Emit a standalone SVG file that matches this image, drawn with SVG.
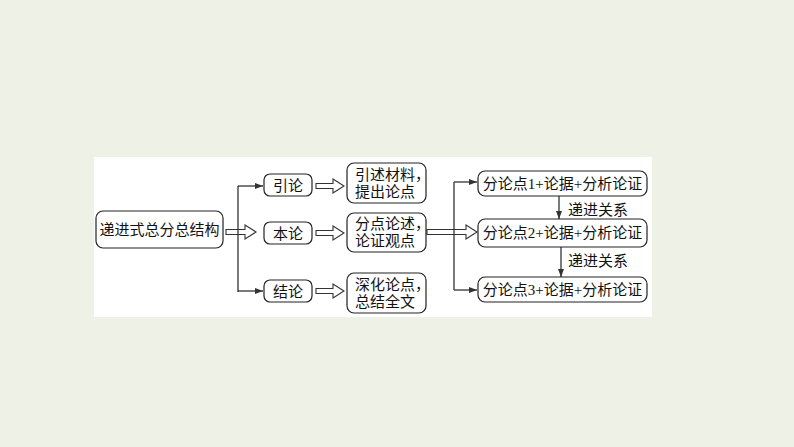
<svg xmlns="http://www.w3.org/2000/svg" width="794" height="447" viewBox="0 0 794 447">
<style>
.box{fill:#fff;stroke:#222;stroke-width:1.2}
.t{font-family:"Liberation Serif","Noto Sans CJK SC",serif;font-size:15px;fill:#111}
.c{text-anchor:middle}
.ln{stroke:#333;stroke-width:1.3;fill:none}
.ho{fill:none;stroke:#333;stroke-width:1.1;stroke-linejoin:miter}
</style>
<defs>
<marker id="ah" viewBox="0 0 8 6" refX="8" refY="3" markerWidth="8" markerHeight="6" markerUnits="userSpaceOnUse" orient="auto">
<path d="M0,0 L8,3 L0,6 Z" fill="#333"/>
</marker>
</defs>
<rect x="0" y="0" width="794" height="447" fill="#eef2e6"/>
<rect x="94" y="157" width="558" height="160" fill="#fff"/>

<g id="connectors">
<line class="ln" x1="238" y1="186" x2="238" y2="292"/>
<line class="ln" x1="238" y1="186" x2="263" y2="186" marker-end="url(#ah)"/>
<line class="ln" x1="238" y1="291" x2="263" y2="291" marker-end="url(#ah)"/>
<path class="ho" d="M226,229.5 H245 V225 L256,232 L245,239 V234.5 H226 Z"/>
<path class="ho" d="M316,183.5 H333 V179 L344,186 L333,193 V188.5 H316 Z"/>
<path class="ho" d="M316,230.5 H333 V226 L344,233 L333,240 V235.5 H316 Z"/>
<path class="ho" d="M316,288.5 H333 V284 L344,291 L333,298 V293.5 H316 Z"/>
<line class="ln" x1="454" y1="182" x2="454" y2="290"/>
<line class="ln" x1="454" y1="182" x2="477" y2="182" marker-end="url(#ah)"/>
<line class="ln" x1="454" y1="290" x2="477" y2="290" marker-end="url(#ah)"/>
<path class="ho" d="M427,229.5 H466 V225 L477,232 L466,239 V234.5 H427 Z"/>
<line class="ln" x1="559" y1="196" x2="559" y2="219" marker-end="url(#ah)"/>
<line class="ln" x1="561" y1="247" x2="561" y2="277" marker-end="url(#ah)"/>
<text class="t" x="568" y="215">递进关系</text>
<text class="t" x="568" y="266">递进关系</text>
</g>

<g id="main">
<rect class="box" x="96" y="211" width="127" height="37" rx="7"/>
<text class="t c" x="159.5" y="235">递进式总分总结构</text>
</g>
<g id="yinlun">
<rect class="box" x="264" y="174" width="48" height="22" rx="6"/>
<text class="t c" x="288" y="190.5">引论</text>
</g>
<g id="benlun">
<rect class="box" x="264" y="222" width="48" height="22" rx="6"/>
<text class="t c" x="288" y="238.5">本论</text>
</g>
<g id="jielun">
<rect class="box" x="264" y="280" width="48" height="22" rx="6"/>
<text class="t c" x="288" y="296.5">结论</text>
</g>
<g id="t1">
<rect class="box" x="347" y="163" width="79" height="40" rx="7"/>
<text class="t" x="355" y="180">引述材料，</text>
<text class="t" x="355" y="197">提出论点</text>
</g>
<g id="t2">
<rect class="box" x="347" y="213" width="79" height="39" rx="7"/>
<text class="t" x="355" y="229">分点论述，</text>
<text class="t" x="355" y="246">论证观点</text>
</g>
<g id="t3">
<rect class="box" x="347" y="273" width="79" height="40" rx="7"/>
<text class="t" x="355" y="290">深化论点，</text>
<text class="t" x="355" y="307">总结全文</text>
</g>
<g id="p1">
<rect class="box" x="478" y="171" width="169" height="25" rx="7"/>
<text class="t c" x="562.5" y="188.5">分论点1+论据+分析论证</text>
</g>
<g id="p2">
<rect class="box" x="478" y="219" width="169" height="28" rx="7"/>
<text class="t c" x="562.5" y="238">分论点2+论据+分析论证</text>
</g>
<g id="p3">
<rect class="box" x="478" y="277" width="169" height="25" rx="7"/>
<text class="t c" x="562.5" y="294.5">分论点3+论据+分析论证</text>
</g>
</svg>
